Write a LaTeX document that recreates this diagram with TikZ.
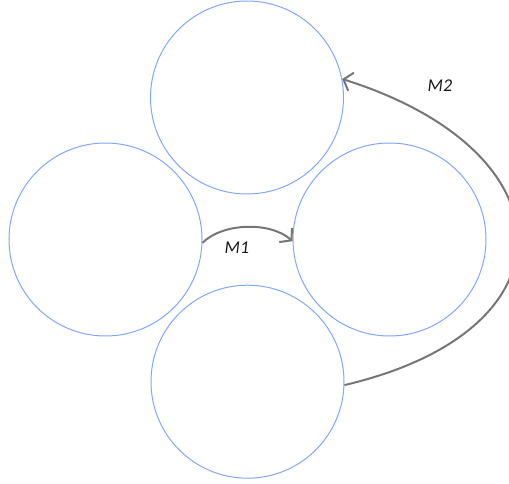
\documentclass[tikz,border=0pt]{standalone}
\usepackage{fontspec}
\setmainfont{Carlito}
\usetikzlibrary{arrows.meta}
\definecolor{circblue}{HTML}{80A8F8}
\definecolor{arrgray}{HTML}{767676}
\definecolor{labtext}{HTML}{1A1A1A}
\begin{document}
\begin{tikzpicture}[x=1pt,y=-1pt,
  ring/.style={draw=circblue,line width=1pt,circle,minimum size=193pt,inner sep=0pt},
  conn/.style={draw=arrgray,line width=2pt,-{Straight Barb[length=8pt,width=19pt,line width=2pt]}},
  lab/.style={font=\itshape\fontsize{18}{20}\selectfont,text=labtext,inner sep=0pt}]
\useasboundingbox (0,0) rectangle (509,484);
\clip (0,0) rectangle (509,484);
\node[ring] (T) at (247,97.5) {};
\node[ring] (L) at (105.5,239.5) {};
\node[ring] (R) at (389.5,239.5) {};
\node[ring] (B) at (247.5,381.7) {};
\coordinate (m1a) at (222,223);
\coordinate (m1b) at (270,221);
\draw[conn] (L.-2) .. controls (m1a) and (m1b) .. (R.181);
\coordinate (m2a) at (580,330);
\coordinate (m2b) at (571,151);
\draw[conn] (B.-2.5) .. controls (m2a) and (m2b) .. (T.11);
\node[lab] (l1) at (237,248) {M1};
\node[lab] (l2) at (440,85.5) {M2};
\end{tikzpicture}
\end{document}
